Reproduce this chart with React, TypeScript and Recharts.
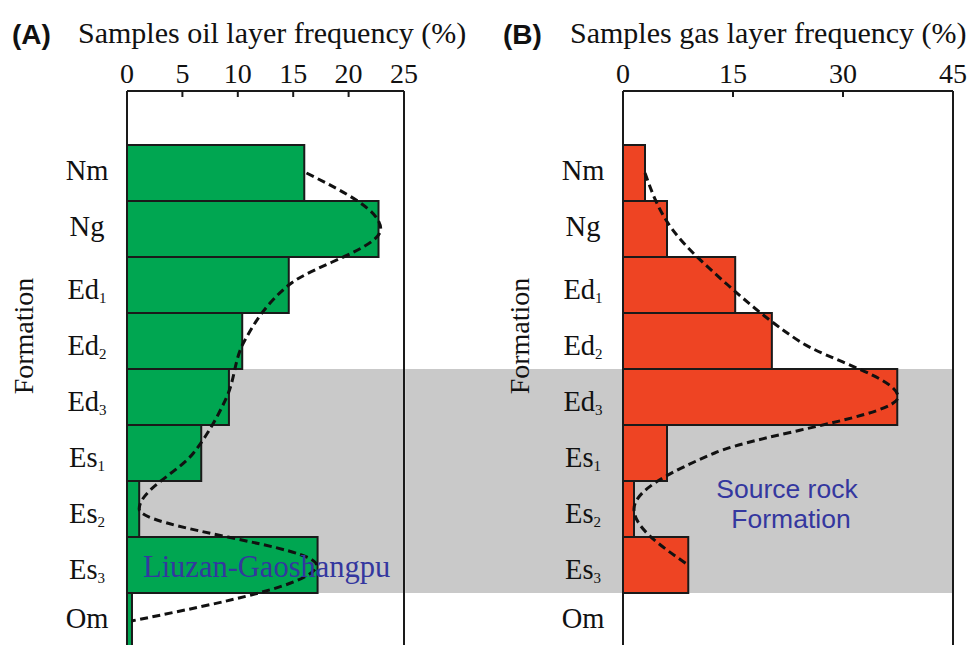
import {
  ComposedChart,
  Bar,
  Line,
  XAxis,
  YAxis,
  ReferenceArea,
  ReferenceLine,
  Label,
} from 'recharts';

const formations = ['Nm', 'Ng', 'Ed1', 'Ed2', 'Ed3', 'Es1', 'Es2', 'Es3', 'Om'];
const oilFreq = [16.0, 22.7, 14.6, 10.4, 9.2, 6.7, 1.1, 17.2, 0.45];
const oilTrend = [16.2, 22.9, 14.6, 10.6, 9.0, 6.0, 1.1, 17.1, 0.4];
const gasFreq = [3.0, 6.0, 15.3, 20.3, 37.4, 6.0, 1.5, 8.9, 0];
const gasTrend = [3.0, 6.7, 14.3, 24.0, 37.5, 12.5, 1.5, 8.9, null];
const oilTicks = [0, 5, 10, 15, 20, 25];
const gasTicks = [0, 15, 30, 45];
const sourceRockTop = 'Ed3';
const sourceRockBottom = 'Es3';

const SERIF = '"Liberation Serif", "Times New Roman", serif';
const SANS = '"Liberation Sans", Arial, sans-serif';
const INK = '#1a1a1a';
const BAND = '#c9c9c9';
const NOTE = '#34379f';

function FormationTick({ x, y, payload }: any) {
  const v = String(payload.value);
  const m = v.match(/^([A-Za-z]+)(\d*)$/);
  const base = m ? m[1] : v;
  const sub = m ? m[2] : '';
  return (
    <text x={x} y={y + (sub ? 14 : 7)} textAnchor="middle" fontFamily={SERIF} fontSize={28.5} fill="#111">
      {base}
      {sub && (
        <tspan fontSize={15} dy={4}>
          {sub}
        </tspan>
      )}
    </text>
  );
}

const renderAxisTitle = (props: any) => {
  const vb = props.viewBox || {};
  const cx = vb.x + vb.width - 94;
  const cy = vb.y + 245;
  return (
    <text
      x={cx}
      y={cy}
      transform={`rotate(-90 ${cx} ${cy})`}
      textAnchor="middle"
      fontFamily={SERIF}
      fontSize={28}
      fill="#111"
    >
      Formation
    </text>
  );
};

interface PanelProps {
  values: number[];
  trend: (number | null)[];
  ticks: number[];
  fill: string;
  width: number;
  axisWidth: number;
  right: number;
  bandFrom?: number;
}

function Panel({ values, trend, ticks, fill, width, axisWidth, right, bandFrom }: PanelProps) {
  const data = formations.map((name, i) => ({ name, value: values[i], trend: trend[i] }));
  const max = ticks[ticks.length - 1];
  return (
    <ComposedChart
      layout="vertical"
      width={width}
      height={649}
      data={data}
      margin={{ top: 61, right, bottom: 0, left: 0 }}
      barCategoryGap={0}
    >
      <ReferenceArea
        y1={sourceRockTop}
        y2={sourceRockBottom}
        x1={bandFrom}
        x2={max}
        fill={BAND}
        fillOpacity={1}
        stroke="none"
        ifOverflow="visible"
      />
      <XAxis
        type="number"
        orientation="top"
        domain={[0, max]}
        ticks={ticks}
        interval={0}
        height={30}
        tickSize={-6}
        tickMargin={14}
        axisLine={{ stroke: INK, strokeWidth: 2 }}
        tickLine={{ stroke: INK, strokeWidth: 2 }}
        tick={{ fontSize: 28, fill: '#111', fontFamily: SERIF }}
      />
      <YAxis
        type="category"
        dataKey="name"
        width={axisWidth}
        interval={0}
        padding={{ top: 54, bottom: 0 }}
        tickSize={0}
        tickMargin={40}
        tickLine={false}
        axisLine={{ stroke: INK, strokeWidth: 2 }}
        tick={<FormationTick />}
      >
        <Label content={renderAxisTitle} />
      </YAxis>
      <Bar dataKey="value" fill={fill} stroke={INK} strokeWidth={2} isAnimationActive={false} />
      <Line
        dataKey="trend"
        type="monotone"
        stroke="#111"
        strokeWidth={3}
        strokeDasharray="8 4.5"
        dot={false}
        activeDot={false}
        isAnimationActive={false}
      />
      <ReferenceLine x={max} stroke={INK} strokeWidth={2} />
    </ComposedChart>
  );
}

export default function App() {
  return (
    <div
      style={{
        position: 'fixed',
        left: 0,
        top: 0,
        width: 970,
        height: 645,
        overflow: 'hidden',
        background: '#fff',
      }}
    >
      <div style={{ position: 'absolute', left: 0, top: 0 }}>
        <Panel values={oilFreq} trend={oilTrend} ticks={oilTicks} fill="#00a651" width={420} axisWidth={127} right={16} />
      </div>
      <div style={{ position: 'absolute', left: 405, top: 0 }}>
        <Panel
          values={gasFreq}
          trend={gasTrend}
          ticks={gasTicks}
          fill="#ee4423"
          width={565}
          axisWidth={218}
          right={17}
          bandFrom={-29.7}
        />
      </div>
      <svg
        width={970}
        height={645}
        style={{ position: 'absolute', left: 0, top: 0, pointerEvents: 'none' }}
      >
        <text x={12} y={44} fontFamily={SANS} fontWeight="bold" fontSize={28} fill="#111">
          (A)
        </text>
        <text x={78} y={43} fontFamily={SERIF} fontSize={30} fill="#111">
          Samples oil layer frequency (%)
        </text>
        <text x={503} y={44} fontFamily={SANS} fontWeight="bold" fontSize={28} fill="#111">
          (B)
        </text>
        <text x={570} y={43} fontFamily={SERIF} fontSize={30} fill="#111">
          Samples gas layer frequency (%)
        </text>
        <text x={143} y={577} fontFamily={SERIF} fontSize={30.5} fill={NOTE}>
          Liuzan-Gaoshangpu
        </text>
        <text x={787} y={498} textAnchor="middle" fontFamily={SANS} fontSize={26.5} fill={NOTE}>
          Source rock
        </text>
        <text x={791} y={528} textAnchor="middle" fontFamily={SANS} fontSize={26.5} fill={NOTE}>
          Formation
        </text>
      </svg>
    </div>
  );
}
